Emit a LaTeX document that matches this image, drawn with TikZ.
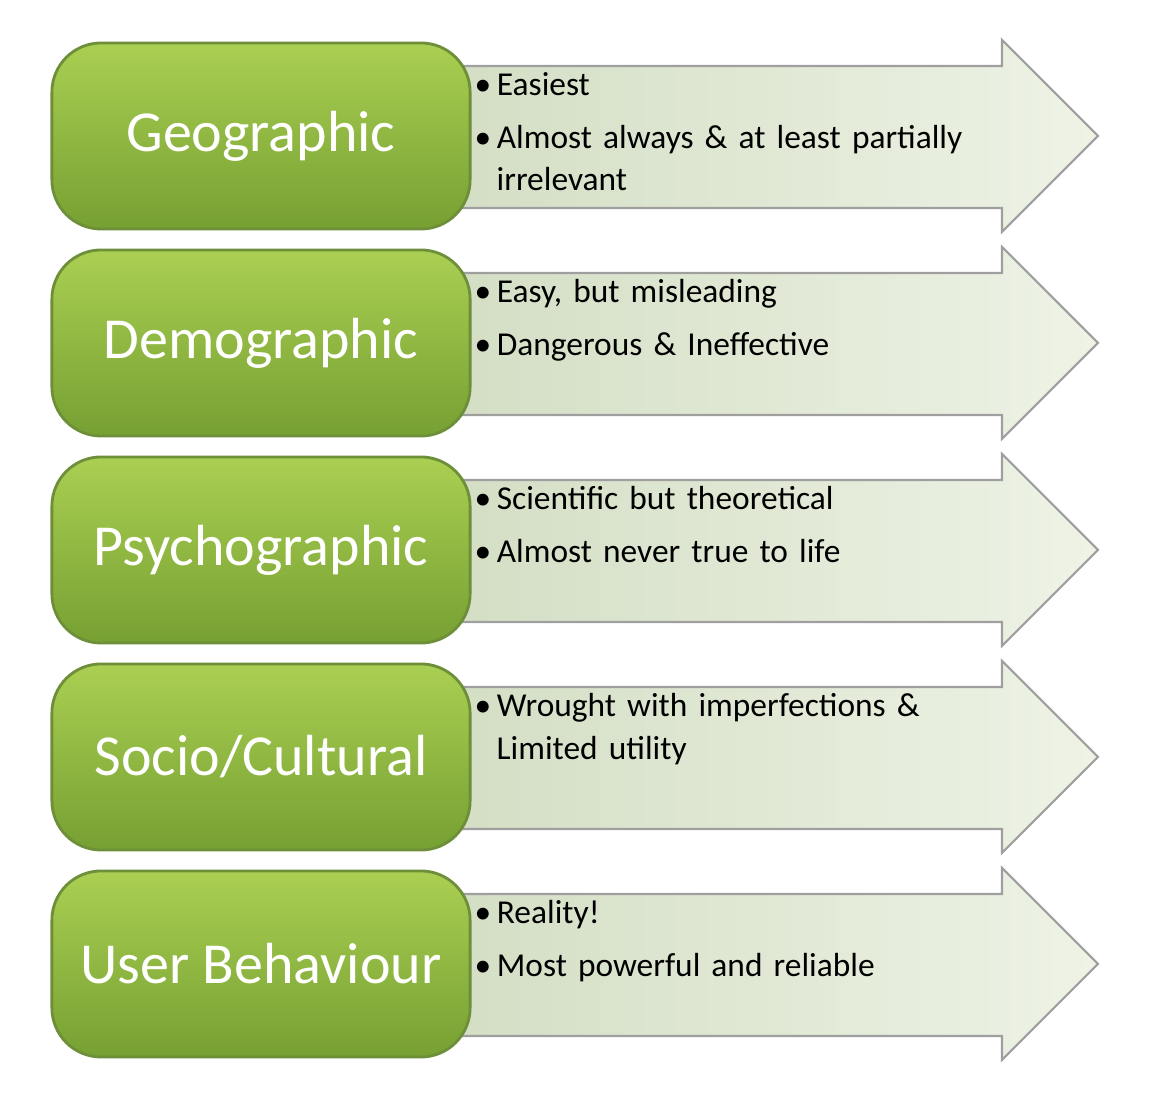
\documentclass[tikz,border=0pt]{standalone}
\usepackage{fontspec}
\setmainfont{Carlito}
\usetikzlibrary{positioning}
\definecolor{segtop}{HTML}{AACF52}
\definecolor{segbot}{HTML}{76A032}
\definecolor{segedge}{HTML}{6E8F3A}
\definecolor{arrL}{HTML}{D3DEC4}
\definecolor{arrR}{HTML}{EEF3E6}

\tikzset{
  segbox/.style={draw=segedge, line width=0.8pt, rounded corners=14pt,
    top color=segtop, bottom color=segbot,
    minimum width=4.18cm, minimum height=1.86cm, text=white, font=\fontsize{16.5}{18}\selectfont},
  segarrow/.style={draw=gray!75, line width=0.6pt, left color=arrL, right color=arrR},
  segtext/.style={anchor=north west, align=left, text width=5.4cm, inner sep=0pt,
    font=\fontsize{9.5}{12}\selectfont}
}

\begin{document}
\begin{tikzpicture}[x=0.01cm, y=-0.01cm]
\useasboundingbox (0,0) rectangle (1150,1116);

\foreach \i/\name/\lbl/\txt in {
  0/geo/Geographic/{\textbullet\,Easiest\\[3pt]\textbullet\,Almost always \& at least partially\\\hspace*{0.22cm}irrelevant},
  1/demo/Demographic/{\textbullet\,Easy, but misleading\\[3pt]\textbullet\,Dangerous \& Ineffective},
  2/psy/Psychographic/{\textbullet\,Scientific but theoretical\\[3pt]\textbullet\,Almost never true to life},
  3/soc/{Socio/Cultural}/{\textbullet\,Wrought with imperfections \&\\\hspace*{0.22cm}Limited utility},
  4/usr/User Behaviour/{\textbullet\,Reality!\\[3pt]\textbullet\,Most powerful and reliable}}
{
  \pgfmathsetmacro{\t}{42+207*\i}
  % arrow behind the box
  \draw[segarrow] (440,\t+24) -- (1002,\t+24) -- (1002,\t-2) -- (1098,\t+94)
    -- (1002,\t+190) -- (1002,\t+166) -- (440,\t+166) -- cycle;
  \node[segbox] (\name) at (261,\t+94) {\lbl};
  \node[segtext] (\name-t) at (474,\t+30) {\txt};
}
\end{tikzpicture}
\end{document}
